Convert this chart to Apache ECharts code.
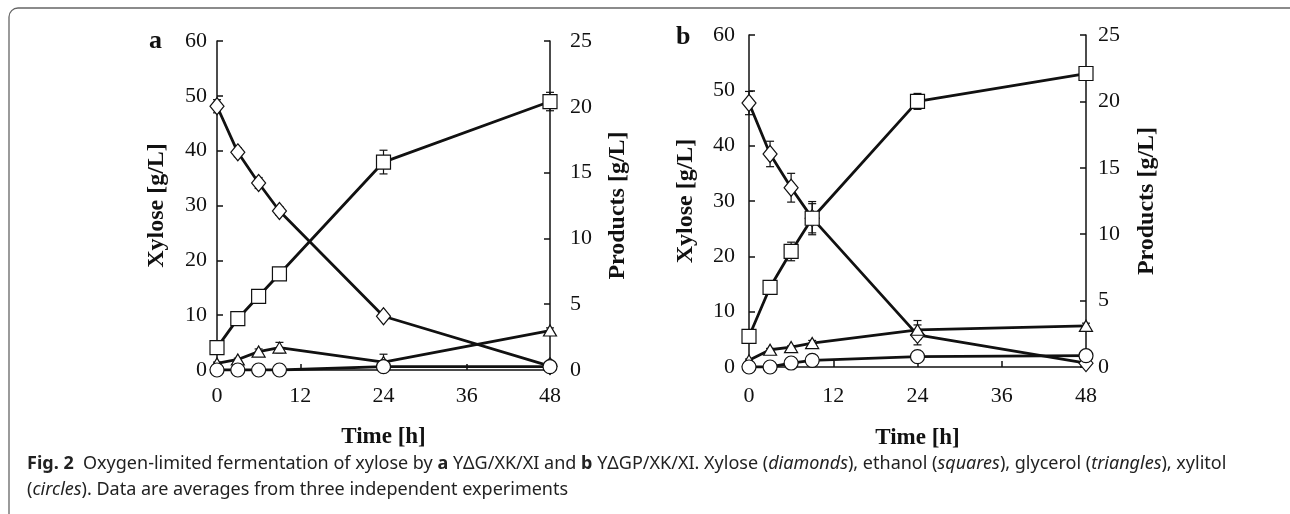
<!DOCTYPE html>
<html>
<head>
<meta charset="utf-8">
<script src="https://cdn.jsdelivr.net/npm/echarts@6/dist/echarts.min.js"></script>
<style>
  html, body { margin: 0; padding: 0; background: #fff; }
  #chart { width: 1290px; height: 514px; }
</style>
</head>
<body>
<div id="chart"></div>
<script>
// sampling times (h)
const hours = [0, 3, 6, 9, 24, 48]
const timeTicks = [0, 12, 24, 36, 48]

// panel a: YΔG/XK/XI
const xyloseA = [48.1, 39.7, 34.1, 29.0, 9.8, 0.7]
const xyloseErrA = [1.2, 0.8, 1.0, 0.8, 0.5, 0.3]
const ethanolA = [1.7, 3.9, 5.6, 7.3, 15.8, 20.4]
const ethanolErrA = [0.2, 0.2, 0.2, 0.2, 0.9, 0.7]
const glycerolA = [0.5, 0.8, 1.4, 1.7, 0.6, 3.0]
const glycerolErrA = [0.1, 0.1, 0.2, 0.4, 0.6, 0.2]
const xylitolA = [0, 0, 0, 0, 0.25, 0.25]

// panel b: YΔGP/XK/XI
const xyloseB = [47.7, 38.5, 32.4, 26.9, 5.8, 0.7]
const xyloseErrB = [2.1, 2.3, 2.6, 3.0, 1.8, 0.3]
const ethanolB = [2.3, 6.0, 8.7, 11.2, 20.0, 22.1]
const ethanolErrB = [0.2, 0.3, 0.7, 1.1, 0.6, 0.3]
const glycerolB = [0.5, 1.3, 1.5, 1.8, 2.8, 3.1]
const glycerolErrB = [0.1, 0.1, 0.1, 0.2, 0.7, 0.2]
const xylitolB = [0, 0, 0.3, 0.5, 0.78, 0.85]

const serif = '"Liberation Serif", "DejaVu Serif", serif'
const sans = '"Noto Sans", sans-serif'
const black = '#111'

const pairs = (ys) => hours.map((h, i) => [h, ys[i]])
const errPairs = (ys, es) => hours.map((h, i) => [h, ys[i], es[i]])

const chart = echarts.init(document.getElementById('chart'))

const xAxisFor = (gridIndex, labelMargin, nameGap) => ({
  type: 'value', gridIndex, min: 0, max: 48, interval: 12,
  name: 'Time [h]', nameLocation: 'middle', nameGap,
  nameTextStyle: { fontFamily: serif, fontWeight: 'bold', fontSize: 23, color: black },
  axisLine: { lineStyle: { color: black, width: 1.5 } },
  axisTick: { inside: true, length: 6, lineStyle: { color: black, width: 1.5 } },
  axisLabel: { fontFamily: serif, fontSize: 22, color: black, margin: labelMargin,
    formatter: (v) => timeTicks.includes(v) ? String(v) : '' },
  splitLine: { show: false }
})

const yAxisFor = (gridIndex, side, max, interval, name, gap, labelMargin) => ({
  type: 'value', gridIndex, position: side, min: 0, max, interval,
  name, nameLocation: 'middle', nameGap: gap, nameRotate: 90,
  nameTextStyle: { fontFamily: serif, fontWeight: 'bold', fontSize: 24, color: black },
  axisLine: { show: true, lineStyle: { color: black, width: 1.5 } },
  axisTick: { show: true, inside: true, length: 6, lineStyle: { color: black, width: 1.5 } },
  axisLabel: { fontFamily: serif, fontSize: 22, color: black, margin: labelMargin },
  splitLine: { show: false }
})

const lineSeries = (name, data, xi, yi, symbol, size) => ({
  name, type: 'line', xAxisIndex: xi, yAxisIndex: yi,
  data: pairs(data), symbol, symbolSize: size, z: 3,
  lineStyle: { color: black, width: 2.8 },
  itemStyle: { color: '#fff', borderColor: black, borderWidth: 1.2 },
  animation: false
})

const errSeries = (data, errs, xi, yi) => ({
  type: 'custom', xAxisIndex: xi, yAxisIndex: yi, z: 2,
  data: errPairs(data, errs),
  renderItem: (params, api) => {
    const x = api.value(0), y = api.value(1), e = api.value(2)
    const top = api.coord([x, y + e])
    const bot = api.coord([x, y - e])
    const w = 4
    const st = { stroke: black, lineWidth: 1.2 }
    return {
      type: 'group',
      children: [
        { type: 'line', shape: { x1: top[0], y1: top[1], x2: bot[0], y2: bot[1] }, style: st },
        { type: 'line', shape: { x1: top[0] - w, y1: top[1], x2: top[0] + w, y2: top[1] }, style: st },
        { type: 'line', shape: { x1: bot[0] - w, y1: bot[1], x2: bot[0] + w, y2: bot[1] }, style: st }
      ]
    }
  },
  animation: false
})

const triangle = 'path://M0,10 L6,0 L12,10 Z'

const option = {
  backgroundColor: '#fff',
  animation: false,
  grid: [
    { left: 217, top: 41, width: 333, height: 329 },
    { left: 749, top: 35, width: 337, height: 332 }
  ],
  xAxis: [xAxisFor(0, 15, 56), xAxisFor(1, 18, 60)],
  yAxis: [
    yAxisFor(0, 'left', 60, 10, 'Xylose [g/L]', 48, 10),
    yAxisFor(0, 'right', 25, 5, 'Products [g/L]', 56, 20),
    yAxisFor(1, 'left', 60, 10, 'Xylose [g/L]', 51, 14),
    yAxisFor(1, 'right', 25, 5, 'Products [g/L]', 49, 12)
  ],
  series: [
    errSeries(xyloseA, xyloseErrA, 0, 0),
    errSeries(ethanolA, ethanolErrA, 0, 1),
    errSeries(glycerolA, glycerolErrA, 0, 1),
    lineSeries('Xylose', xyloseA, 0, 0, 'diamond', [14, 17]),
    lineSeries('Ethanol', ethanolA, 0, 1, 'rect', 14),
    lineSeries('Glycerol', glycerolA, 0, 1, triangle, [13, 11]),
    lineSeries('Xylitol', xylitolA, 0, 1, 'circle', 14),

    errSeries(xyloseB, xyloseErrB, 1, 2),
    errSeries(ethanolB, ethanolErrB, 1, 3),
    errSeries(glycerolB, glycerolErrB, 1, 3),
    lineSeries('Xylose', xyloseB, 1, 2, 'diamond', [14, 17]),
    lineSeries('Ethanol', ethanolB, 1, 3, 'rect', 14),
    lineSeries('Glycerol', glycerolB, 1, 3, triangle, [13, 11]),
    lineSeries('Xylitol', xylitolB, 1, 3, 'circle', 14)
  ],
  graphic: [
    { type: 'rect', silent: true, z: -1,
      shape: { x: 9, y: 8, width: 1290, height: 560, r: 9 },
      style: { fill: 'none', stroke: '#666', lineWidth: 1.3 } },
    { type: 'text', left: 149, top: 28,
      style: { text: 'a', font: 'bold 26px ' + serif, fill: black } },
    { type: 'text', left: 676, top: 24,
      style: { text: 'b', font: 'bold 26px ' + serif, fill: black } },
    { type: 'text', left: 27, top: 451,
      style: {
        text: '{b|Fig. 2}  Oxygen-limited fermentation of xylose by {b|a} YΔG/XK/XI and {b|b} YΔGP/XK/XI. Xylose ({i|diamonds}), ethanol ({i|squares}), glycerol ({i|triangles}), xylitol\n({i|circles}). Data are averages from three independent experiments',
        font: '18px ' + sans, fill: '#222', lineHeight: 26,
        rich: {
          b: { fontWeight: 'bold', fontSize: 18, fontFamily: sans, fill: '#222', lineHeight: 26 },
          i: { fontStyle: 'italic', fontSize: 18, fontFamily: sans, fill: '#222', lineHeight: 26 }
        }
      } }
  ]
}

chart.setOption(option)
</script>
</body>
</html>
